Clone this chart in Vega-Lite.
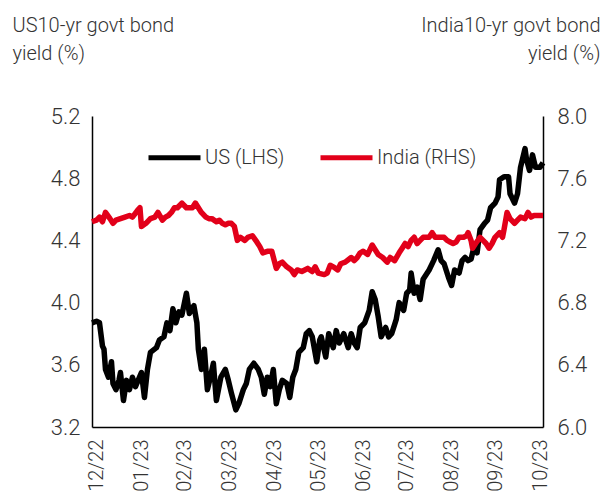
{
  "$schema": "https://vega.github.io/schema/vega-lite/v6.json",
  "width": 451,
  "height": 311,
  "autosize": {"type": "none"},
  "padding": {"left": 92, "top": 116, "right": 63, "bottom": 69},
  "background": "white",
  "config": {
    "view": {"stroke": null},
    "font": "Roboto",
    "axis": {"grid": false, "ticks": false, "domainColor": "#000000", "domainWidth": 1.5, "labelColor": "#333333", "labelFont": "Roboto", "labelFontWeight": 300, "labelFontSize": 22, "titleFont": "Roboto", "titleFontWeight": 300, "titleColor": "#333333", "titleFontSize": 20}
  },
  "data": {"values": [
    {"date":"2022-12-26","series":"US (LHS)","value":3.87},
    {"date":"2022-12-29","series":"US (LHS)","value":3.88},
    {"date":"2022-12-31","series":"US (LHS)","value":3.87},
    {"date":"2023-01-02","series":"US (LHS)","value":3.72},
    {"date":"2023-01-03","series":"US (LHS)","value":3.70},
    {"date":"2023-01-04","series":"US (LHS)","value":3.57},
    {"date":"2023-01-06","series":"US (LHS)","value":3.52},
    {"date":"2023-01-08","series":"US (LHS)","value":3.62},
    {"date":"2023-01-09","series":"US (LHS)","value":3.48},
    {"date":"2023-01-11","series":"US (LHS)","value":3.44},
    {"date":"2023-01-13","series":"US (LHS)","value":3.50},
    {"date":"2023-01-14","series":"US (LHS)","value":3.55},
    {"date":"2023-01-16","series":"US (LHS)","value":3.37},
    {"date":"2023-01-18","series":"US (LHS)","value":3.50},
    {"date":"2023-01-20","series":"US (LHS)","value":3.44},
    {"date":"2023-01-22","series":"US (LHS)","value":3.52},
    {"date":"2023-01-24","series":"US (LHS)","value":3.46},
    {"date":"2023-01-28","series":"US (LHS)","value":3.55},
    {"date":"2023-01-30","series":"US (LHS)","value":3.39},
    {"date":"2023-02-01","series":"US (LHS)","value":3.57},
    {"date":"2023-02-03","series":"US (LHS)","value":3.68},
    {"date":"2023-02-07","series":"US (LHS)","value":3.71},
    {"date":"2023-02-09","series":"US (LHS)","value":3.76},
    {"date":"2023-02-12","series":"US (LHS)","value":3.78},
    {"date":"2023-02-14","series":"US (LHS)","value":3.87},
    {"date":"2023-02-16","series":"US (LHS)","value":3.82},
    {"date":"2023-02-18","series":"US (LHS)","value":3.96},
    {"date":"2023-02-20","series":"US (LHS)","value":3.87},
    {"date":"2023-02-22","series":"US (LHS)","value":3.94},
    {"date":"2023-02-24","series":"US (LHS)","value":3.92},
    {"date":"2023-02-27","series":"US (LHS)","value":4.06},
    {"date":"2023-03-01","series":"US (LHS)","value":3.93},
    {"date":"2023-03-04","series":"US (LHS)","value":3.98},
    {"date":"2023-03-06","series":"US (LHS)","value":3.87},
    {"date":"2023-03-07","series":"US (LHS)","value":3.70},
    {"date":"2023-03-09","series":"US (LHS)","value":3.57},
    {"date":"2023-03-11","series":"US (LHS)","value":3.70},
    {"date":"2023-03-13","series":"US (LHS)","value":3.44},
    {"date":"2023-03-15","series":"US (LHS)","value":3.52},
    {"date":"2023-03-17","series":"US (LHS)","value":3.61},
    {"date":"2023-03-19","series":"US (LHS)","value":3.37},
    {"date":"2023-03-22","series":"US (LHS)","value":3.52},
    {"date":"2023-03-25","series":"US (LHS)","value":3.57},
    {"date":"2023-03-27","series":"US (LHS)","value":3.50},
    {"date":"2023-03-29","series":"US (LHS)","value":3.42},
    {"date":"2023-04-01","series":"US (LHS)","value":3.31},
    {"date":"2023-04-03","series":"US (LHS)","value":3.35},
    {"date":"2023-04-06","series":"US (LHS)","value":3.44},
    {"date":"2023-04-08","series":"US (LHS)","value":3.48},
    {"date":"2023-04-10","series":"US (LHS)","value":3.57},
    {"date":"2023-04-13","series":"US (LHS)","value":3.61},
    {"date":"2023-04-16","series":"US (LHS)","value":3.57},
    {"date":"2023-04-18","series":"US (LHS)","value":3.52},
    {"date":"2023-04-20","series":"US (LHS)","value":3.41},
    {"date":"2023-04-22","series":"US (LHS)","value":3.52},
    {"date":"2023-04-24","series":"US (LHS)","value":3.46},
    {"date":"2023-04-26","series":"US (LHS)","value":3.57},
    {"date":"2023-04-28","series":"US (LHS)","value":3.35},
    {"date":"2023-04-30","series":"US (LHS)","value":3.44},
    {"date":"2023-05-02","series":"US (LHS)","value":3.50},
    {"date":"2023-05-05","series":"US (LHS)","value":3.48},
    {"date":"2023-05-07","series":"US (LHS)","value":3.39},
    {"date":"2023-05-09","series":"US (LHS)","value":3.52},
    {"date":"2023-05-11","series":"US (LHS)","value":3.57},
    {"date":"2023-05-13","series":"US (LHS)","value":3.68},
    {"date":"2023-05-16","series":"US (LHS)","value":3.71},
    {"date":"2023-05-18","series":"US (LHS)","value":3.80},
    {"date":"2023-05-20","series":"US (LHS)","value":3.82},
    {"date":"2023-05-22","series":"US (LHS)","value":3.78},
    {"date":"2023-05-25","series":"US (LHS)","value":3.62},
    {"date":"2023-05-27","series":"US (LHS)","value":3.76},
    {"date":"2023-05-28","series":"US (LHS)","value":3.78},
    {"date":"2023-05-31","series":"US (LHS)","value":3.65},
    {"date":"2023-06-02","series":"US (LHS)","value":3.80},
    {"date":"2023-06-05","series":"US (LHS)","value":3.71},
    {"date":"2023-06-07","series":"US (LHS)","value":3.82},
    {"date":"2023-06-09","series":"US (LHS)","value":3.74},
    {"date":"2023-06-12","series":"US (LHS)","value":3.80},
    {"date":"2023-06-15","series":"US (LHS)","value":3.71},
    {"date":"2023-06-17","series":"US (LHS)","value":3.80},
    {"date":"2023-06-19","series":"US (LHS)","value":3.74},
    {"date":"2023-06-21","series":"US (LHS)","value":3.71},
    {"date":"2023-06-23","series":"US (LHS)","value":3.84},
    {"date":"2023-06-26","series":"US (LHS)","value":3.87},
    {"date":"2023-06-29","series":"US (LHS)","value":3.95},
    {"date":"2023-07-01","series":"US (LHS)","value":4.07},
    {"date":"2023-07-03","series":"US (LHS)","value":4.02},
    {"date":"2023-07-05","series":"US (LHS)","value":3.91},
    {"date":"2023-07-07","series":"US (LHS)","value":3.78},
    {"date":"2023-07-10","series":"US (LHS)","value":3.84},
    {"date":"2023-07-12","series":"US (LHS)","value":3.78},
    {"date":"2023-07-14","series":"US (LHS)","value":3.80},
    {"date":"2023-07-16","series":"US (LHS)","value":3.86},
    {"date":"2023-07-17","series":"US (LHS)","value":3.89},
    {"date":"2023-07-19","series":"US (LHS)","value":4.00},
    {"date":"2023-07-22","series":"US (LHS)","value":3.95},
    {"date":"2023-07-24","series":"US (LHS)","value":4.06},
    {"date":"2023-07-26","series":"US (LHS)","value":4.08},
    {"date":"2023-07-27","series":"US (LHS)","value":4.19},
    {"date":"2023-07-29","series":"US (LHS)","value":4.06},
    {"date":"2023-07-31","series":"US (LHS)","value":4.10},
    {"date":"2023-08-02","series":"US (LHS)","value":4.02},
    {"date":"2023-08-04","series":"US (LHS)","value":4.15},
    {"date":"2023-08-08","series":"US (LHS)","value":4.21},
    {"date":"2023-08-11","series":"US (LHS)","value":4.27},
    {"date":"2023-08-14","series":"US (LHS)","value":4.34},
    {"date":"2023-08-16","series":"US (LHS)","value":4.27},
    {"date":"2023-08-18","series":"US (LHS)","value":4.25},
    {"date":"2023-08-21","series":"US (LHS)","value":4.16},
    {"date":"2023-08-23","series":"US (LHS)","value":4.11},
    {"date":"2023-08-25","series":"US (LHS)","value":4.21},
    {"date":"2023-08-28","series":"US (LHS)","value":4.19},
    {"date":"2023-08-30","series":"US (LHS)","value":4.27},
    {"date":"2023-09-01","series":"US (LHS)","value":4.29},
    {"date":"2023-09-03","series":"US (LHS)","value":4.27},
    {"date":"2023-09-05","series":"US (LHS)","value":4.28},
    {"date":"2023-09-07","series":"US (LHS)","value":4.36},
    {"date":"2023-09-09","series":"US (LHS)","value":4.32},
    {"date":"2023-09-11","series":"US (LHS)","value":4.47},
    {"date":"2023-09-14","series":"US (LHS)","value":4.51},
    {"date":"2023-09-16","series":"US (LHS)","value":4.53},
    {"date":"2023-09-18","series":"US (LHS)","value":4.61},
    {"date":"2023-09-21","series":"US (LHS)","value":4.64},
    {"date":"2023-09-23","series":"US (LHS)","value":4.68},
    {"date":"2023-09-24","series":"US (LHS)","value":4.79},
    {"date":"2023-09-27","series":"US (LHS)","value":4.81},
    {"date":"2023-09-30","series":"US (LHS)","value":4.81},
    {"date":"2023-10-01","series":"US (LHS)","value":4.70},
    {"date":"2023-10-04","series":"US (LHS)","value":4.64},
    {"date":"2023-10-06","series":"US (LHS)","value":4.70},
    {"date":"2023-10-08","series":"US (LHS)","value":4.87},
    {"date":"2023-10-11","series":"US (LHS)","value":4.99},
    {"date":"2023-10-12","series":"US (LHS)","value":4.92},
    {"date":"2023-10-14","series":"US (LHS)","value":4.85},
    {"date":"2023-10-16","series":"US (LHS)","value":4.95},
    {"date":"2023-10-18","series":"US (LHS)","value":4.87},
    {"date":"2023-10-21","series":"US (LHS)","value":4.87},
    {"date":"2023-10-23","series":"US (LHS)","value":4.90},
    {"date":"2022-12-26","series":"India (RHS)","value":7.32},
    {"date":"2022-12-29","series":"India (RHS)","value":7.33},
    {"date":"2022-12-31","series":"India (RHS)","value":7.35},
    {"date":"2023-01-02","series":"India (RHS)","value":7.32},
    {"date":"2023-01-04","series":"India (RHS)","value":7.38},
    {"date":"2023-01-07","series":"India (RHS)","value":7.34},
    {"date":"2023-01-09","series":"India (RHS)","value":7.31},
    {"date":"2023-01-11","series":"India (RHS)","value":7.33},
    {"date":"2023-01-14","series":"India (RHS)","value":7.34},
    {"date":"2023-01-17","series":"India (RHS)","value":7.35},
    {"date":"2023-01-20","series":"India (RHS)","value":7.36},
    {"date":"2023-01-22","series":"India (RHS)","value":7.35},
    {"date":"2023-01-26","series":"India (RHS)","value":7.40},
    {"date":"2023-01-27","series":"India (RHS)","value":7.41},
    {"date":"2023-01-28","series":"India (RHS)","value":7.29},
    {"date":"2023-01-31","series":"India (RHS)","value":7.31},
    {"date":"2023-02-03","series":"India (RHS)","value":7.34},
    {"date":"2023-02-06","series":"India (RHS)","value":7.35},
    {"date":"2023-02-08","series":"India (RHS)","value":7.38},
    {"date":"2023-02-11","series":"India (RHS)","value":7.33},
    {"date":"2023-02-13","series":"India (RHS)","value":7.35},
    {"date":"2023-02-15","series":"India (RHS)","value":7.36},
    {"date":"2023-02-17","series":"India (RHS)","value":7.38},
    {"date":"2023-02-19","series":"India (RHS)","value":7.41},
    {"date":"2023-02-21","series":"India (RHS)","value":7.41},
    {"date":"2023-02-24","series":"India (RHS)","value":7.44},
    {"date":"2023-02-27","series":"India (RHS)","value":7.41},
    {"date":"2023-03-01","series":"India (RHS)","value":7.41},
    {"date":"2023-03-03","series":"India (RHS)","value":7.41},
    {"date":"2023-03-05","series":"India (RHS)","value":7.44},
    {"date":"2023-03-07","series":"India (RHS)","value":7.41},
    {"date":"2023-03-09","series":"India (RHS)","value":7.38},
    {"date":"2023-03-12","series":"India (RHS)","value":7.35},
    {"date":"2023-03-14","series":"India (RHS)","value":7.34},
    {"date":"2023-03-16","series":"India (RHS)","value":7.34},
    {"date":"2023-03-19","series":"India (RHS)","value":7.32},
    {"date":"2023-03-21","series":"India (RHS)","value":7.33},
    {"date":"2023-03-23","series":"India (RHS)","value":7.31},
    {"date":"2023-03-25","series":"India (RHS)","value":7.30},
    {"date":"2023-03-27","series":"India (RHS)","value":7.31},
    {"date":"2023-03-29","series":"India (RHS)","value":7.31},
    {"date":"2023-03-31","series":"India (RHS)","value":7.29},
    {"date":"2023-04-02","series":"India (RHS)","value":7.20},
    {"date":"2023-04-04","series":"India (RHS)","value":7.22},
    {"date":"2023-04-07","series":"India (RHS)","value":7.20},
    {"date":"2023-04-09","series":"India (RHS)","value":7.22},
    {"date":"2023-04-12","series":"India (RHS)","value":7.23},
    {"date":"2023-04-15","series":"India (RHS)","value":7.19},
    {"date":"2023-04-17","series":"India (RHS)","value":7.16},
    {"date":"2023-04-19","series":"India (RHS)","value":7.12},
    {"date":"2023-04-22","series":"India (RHS)","value":7.13},
    {"date":"2023-04-25","series":"India (RHS)","value":7.13},
    {"date":"2023-04-28","series":"India (RHS)","value":7.02},
    {"date":"2023-04-30","series":"India (RHS)","value":7.05},
    {"date":"2023-05-02","series":"India (RHS)","value":7.06},
    {"date":"2023-05-05","series":"India (RHS)","value":7.03},
    {"date":"2023-05-08","series":"India (RHS)","value":7.01},
    {"date":"2023-05-10","series":"India (RHS)","value":6.98},
    {"date":"2023-05-12","series":"India (RHS)","value":7.01},
    {"date":"2023-05-15","series":"India (RHS)","value":7.00},
    {"date":"2023-05-17","series":"India (RHS)","value":7.01},
    {"date":"2023-05-19","series":"India (RHS)","value":7.02},
    {"date":"2023-05-22","series":"India (RHS)","value":7.00},
    {"date":"2023-05-24","series":"India (RHS)","value":7.03},
    {"date":"2023-05-26","series":"India (RHS)","value":6.99},
    {"date":"2023-05-30","series":"India (RHS)","value":6.98},
    {"date":"2023-06-01","series":"India (RHS)","value":6.99},
    {"date":"2023-06-03","series":"India (RHS)","value":7.04},
    {"date":"2023-06-05","series":"India (RHS)","value":7.03},
    {"date":"2023-06-08","series":"India (RHS)","value":7.01},
    {"date":"2023-06-10","series":"India (RHS)","value":7.05},
    {"date":"2023-06-13","series":"India (RHS)","value":7.06},
    {"date":"2023-06-17","series":"India (RHS)","value":7.09},
    {"date":"2023-06-19","series":"India (RHS)","value":7.07},
    {"date":"2023-06-21","series":"India (RHS)","value":7.09},
    {"date":"2023-06-23","series":"India (RHS)","value":7.12},
    {"date":"2023-06-25","series":"India (RHS)","value":7.13},
    {"date":"2023-06-28","series":"India (RHS)","value":7.11},
    {"date":"2023-07-01","series":"India (RHS)","value":7.17},
    {"date":"2023-07-03","series":"India (RHS)","value":7.14},
    {"date":"2023-07-05","series":"India (RHS)","value":7.11},
    {"date":"2023-07-08","series":"India (RHS)","value":7.09},
    {"date":"2023-07-11","series":"India (RHS)","value":7.06},
    {"date":"2023-07-13","series":"India (RHS)","value":7.09},
    {"date":"2023-07-16","series":"India (RHS)","value":7.07},
    {"date":"2023-07-19","series":"India (RHS)","value":7.12},
    {"date":"2023-07-21","series":"India (RHS)","value":7.15},
    {"date":"2023-07-23","series":"India (RHS)","value":7.18},
    {"date":"2023-07-25","series":"India (RHS)","value":7.16},
    {"date":"2023-07-27","series":"India (RHS)","value":7.20},
    {"date":"2023-07-29","series":"India (RHS)","value":7.22},
    {"date":"2023-07-31","series":"India (RHS)","value":7.18},
    {"date":"2023-08-02","series":"India (RHS)","value":7.20},
    {"date":"2023-08-04","series":"India (RHS)","value":7.22},
    {"date":"2023-08-06","series":"India (RHS)","value":7.22},
    {"date":"2023-08-08","series":"India (RHS)","value":7.22},
    {"date":"2023-08-10","series":"India (RHS)","value":7.25},
    {"date":"2023-08-12","series":"India (RHS)","value":7.22},
    {"date":"2023-08-15","series":"India (RHS)","value":7.22},
    {"date":"2023-08-18","series":"India (RHS)","value":7.22},
    {"date":"2023-08-20","series":"India (RHS)","value":7.20},
    {"date":"2023-08-22","series":"India (RHS)","value":7.19},
    {"date":"2023-08-24","series":"India (RHS)","value":7.18},
    {"date":"2023-08-26","series":"India (RHS)","value":7.19},
    {"date":"2023-08-28","series":"India (RHS)","value":7.22},
    {"date":"2023-08-31","series":"India (RHS)","value":7.22},
    {"date":"2023-09-02","series":"India (RHS)","value":7.23},
    {"date":"2023-09-03","series":"India (RHS)","value":7.25},
    {"date":"2023-09-05","series":"India (RHS)","value":7.20},
    {"date":"2023-09-06","series":"India (RHS)","value":7.15},
    {"date":"2023-09-08","series":"India (RHS)","value":7.18},
    {"date":"2023-09-11","series":"India (RHS)","value":7.22},
    {"date":"2023-09-13","series":"India (RHS)","value":7.20},
    {"date":"2023-09-15","series":"India (RHS)","value":7.18},
    {"date":"2023-09-17","series":"India (RHS)","value":7.15},
    {"date":"2023-09-19","series":"India (RHS)","value":7.18},
    {"date":"2023-09-21","series":"India (RHS)","value":7.22},
    {"date":"2023-09-24","series":"India (RHS)","value":7.25},
    {"date":"2023-09-26","series":"India (RHS)","value":7.22},
    {"date":"2023-09-27","series":"India (RHS)","value":7.27},
    {"date":"2023-09-29","series":"India (RHS)","value":7.38},
    {"date":"2023-10-01","series":"India (RHS)","value":7.34},
    {"date":"2023-10-04","series":"India (RHS)","value":7.31},
    {"date":"2023-10-06","series":"India (RHS)","value":7.33},
    {"date":"2023-10-08","series":"India (RHS)","value":7.35},
    {"date":"2023-10-11","series":"India (RHS)","value":7.34},
    {"date":"2023-10-13","series":"India (RHS)","value":7.38},
    {"date":"2023-10-15","series":"India (RHS)","value":7.35},
    {"date":"2023-10-17","series":"India (RHS)","value":7.36},
    {"date":"2023-10-21","series":"India (RHS)","value":7.36},
    {"date":"2023-10-23","series":"India (RHS)","value":7.36}
  ]},
  "encoding": {
    "x": {
      "field": "date", "type": "temporal",
      "scale": {"type": "utc", "domain": [{"year": 2022, "month": 12, "date": 26, "utc": true}, {"year": 2023, "month": 10, "date": 23, "utc": true}]},
      "axis": {
        "title": null, "labelExpr": "utcFormat(datum.value, '%m/%y')", "labelAngle": -90, "labelPadding": 12, "labelFontSize": 20, "labelFlush": false, "labelOverlap": false,
        "values": [
          {"year": 2022, "month": 12, "date": 29, "utc": true},
          {"year": 2023, "month": 1, "date": 28, "utc": true},
          {"year": 2023, "month": 2, "date": 26, "utc": true},
          {"year": 2023, "month": 3, "date": 28, "utc": true},
          {"year": 2023, "month": 4, "date": 27, "utc": true},
          {"year": 2023, "month": 5, "date": 26, "utc": true},
          {"year": 2023, "month": 6, "date": 25, "utc": true},
          {"year": 2023, "month": 7, "date": 24, "utc": true},
          {"year": 2023, "month": 8, "date": 23, "utc": true},
          {"year": 2023, "month": 9, "date": 21, "utc": true},
          {"year": 2023, "month": 10, "date": 21, "utc": true}
        ]
      }
    },
    "color": {
      "field": "series", "type": "nominal",
      "scale": {"domain": ["US (LHS)", "India (RHS)"], "range": ["#000000", "#e2001a"]},
      "legend": {
        "title": null, "orient": "none", "legendX": 54, "legendY": 13, "direction": "horizontal", "columns": 2, "columnPadding": 25,
        "symbolType": "stroke", "symbolSize": 2704, "symbolStrokeWidth": 5, "labelFont": "Roboto", "labelFontWeight": 300, "labelFontSize": 20, "labelColor": "#333333", "labelOffset": 2
      }
    }
  },
  "layer": [
    {
      "transform": [{"filter": "datum.series === 'US (LHS)'"}],
      "mark": {"type": "line", "strokeWidth": 5.5, "strokeJoin": "round"},
      "encoding": {
        "y": {
          "field": "value", "type": "quantitative",
          "scale": {"domain": [3.2, 5.2], "zero": false, "nice": false},
          "axis": {
            "orient": "left", "values": [3.2, 3.6, 4.0, 4.4, 4.8, 5.2], "format": ".1f", "labelPadding": 12,
            "title": ["US10-yr govt bond", "yield (%)"], "titleAngle": 0, "titleAlign": "left", "titleBaseline": "alphabetic",
            "titleX": -80, "titleY": -85, "titleLineHeight": 28
          }
        }
      }
    },
    {
      "transform": [{"filter": "datum.series === 'India (RHS)'"}],
      "mark": {"type": "line", "strokeWidth": 5.5, "strokeJoin": "round"},
      "encoding": {
        "y": {
          "field": "value", "type": "quantitative",
          "scale": {"domain": [6.0, 8.0], "zero": false, "nice": false},
          "axis": {
            "orient": "right", "values": [6.0, 6.4, 6.8, 7.2, 7.6, 8.0], "format": ".1f", "labelPadding": 14,
            "title": ["India10-yr govt bond", "yield (%)"], "titleAngle": 0, "titleAlign": "right", "titleBaseline": "alphabetic",
            "titleX": 57, "titleY": -85, "titleLineHeight": 28
          }
        }
      }
    }
  ],
  "resolve": {"scale": {"y": "independent"}}
}
